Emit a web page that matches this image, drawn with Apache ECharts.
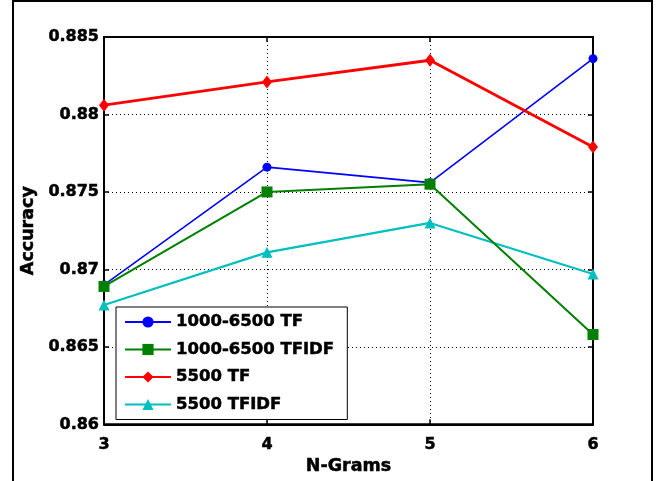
<!DOCTYPE html>
<html>
<head>
<meta charset="utf-8">
<script src="https://cdn.jsdelivr.net/npm/echarts@6/dist/echarts.min.js"></script>
<style>
  html, body { margin: 0; padding: 0; background: #fff; }
  #chart { width: 658px; height: 481px; }
</style>
</head>
<body>
<div id="chart"></div>
<script>
// N-gram sizes on the x axis
const nGrams = [3, 4, 5, 6]

// accuracy per series
const tf1000 = [0.8690, 0.8766, 0.8756, 0.8836]
const tfidf1000 = [0.8689, 0.8750, 0.8755, 0.8658]
const tf5500 = [0.8806, 0.8821, 0.8835, 0.8779]
const tfidf5500 = [0.8677, 0.8711, 0.8730, 0.8697]

const seriesNames = ['1000-6500 TF', '1000-6500 TFIDF', '5500 TF', '5500 TFIDF']

const font = '"DejaVu Sans", sans-serif'
// thin outline to get the heavy MATLAB bold look
const heavy = { fontFamily: font, fontWeight: 'bold', color: '#000', textBorderColor: '#000', textBorderWidth: 0.5 }

const pairs = vals => nGrams.map((n, i) => [n, vals[i]])

const chart = echarts.init(document.getElementById('chart'))

// tick-only axes for the top and right edges of the box
const edgeTicks = { show: true, inside: true, length: 5, lineStyle: { color: '#000', width: 1.5 } }

const option = {
  animation: false,
  backgroundColor: '#fff',
  textStyle: { fontFamily: font },

  // figure frame
  graphic: [{
    type: 'rect',
    shape: { x: 13, y: 1, width: 639, height: 495 },
    style: { fill: 'none', stroke: '#000', lineWidth: 2 },
    silent: true
  }],

  grid: {
    left: 104,
    right: 65,
    top: 37,
    bottom: 54,
    show: true,
    borderColor: '#000',
    borderWidth: 2,
    backgroundColor: 'transparent'
  },

  legend: {
    data: seriesNames,
    orient: 'vertical',
    left: 116,
    top: 307,
    width: 230,
    padding: [5, 13, 5, 8],
    itemWidth: 46,
    itemHeight: 14,
    itemGap: 7.5,
    backgroundColor: '#fff',
    borderColor: '#000',
    borderWidth: 1,
    borderRadius: 0,
    textStyle: { ...heavy, fontSize: 16.5, lineHeight: 20 }
  },

  xAxis: [
    {
      type: 'value',
      min: 3,
      max: 6,
      interval: 1,
      name: 'N-Grams',
      nameLocation: 'middle',
      nameGap: 30,
      nameTextStyle: { ...heavy, fontSize: 17.5 },
      axisLine: { show: true, lineStyle: { color: '#000', width: 2 } },
      axisTick: edgeTicks,
      axisLabel: { ...heavy, fontSize: 16, margin: 12 },
      splitLine: { show: true, lineStyle: { color: '#000', type: [1, 3], width: 1 } }
    },
    {
      type: 'value',
      position: 'top',
      min: 3,
      max: 6,
      interval: 1,
      axisLine: { show: true, lineStyle: { color: '#000', width: 2 } },
      axisTick: edgeTicks,
      axisLabel: { show: false },
      splitLine: { show: false }
    }
  ],

  yAxis: [
    {
      type: 'value',
      min: 0.86,
      max: 0.885,
      interval: 0.005,
      name: 'Accuracy',
      nameLocation: 'middle',
      nameGap: 57,
      nameTextStyle: { ...heavy, fontSize: 17.5 },
      axisLine: { show: true, lineStyle: { color: '#000', width: 2 } },
      axisTick: edgeTicks,
      axisLabel: {
        ...heavy,
        fontSize: 16,
        margin: 5,
        formatter: v => String(+v.toFixed(3))
      },
      splitLine: { show: true, lineStyle: { color: '#000', type: [1, 3], width: 1 } }
    },
    {
      type: 'value',
      position: 'right',
      min: 0.86,
      max: 0.885,
      interval: 0.005,
      axisLine: { show: true, lineStyle: { color: '#000', width: 2 } },
      axisTick: edgeTicks,
      axisLabel: { show: false },
      splitLine: { show: false }
    }
  ],

  series: [
    {
      name: seriesNames[0],
      type: 'line',
      data: pairs(tf1000),
      symbol: 'circle',
      symbolSize: 9,
      lineStyle: { color: '#0000ff', width: 1.6 },
      itemStyle: { color: '#0000ff' },
      z: 3
    },
    {
      name: seriesNames[1],
      type: 'line',
      data: pairs(tfidf1000),
      symbol: 'rect',
      symbolSize: 11,
      lineStyle: { color: '#008000', width: 2 },
      itemStyle: { color: '#008000' },
      z: 4
    },
    {
      name: seriesNames[2],
      type: 'line',
      data: pairs(tf5500),
      symbol: 'diamond',
      symbolSize: [10, 13],
      lineStyle: { color: '#ff0000', width: 2.8 },
      itemStyle: { color: '#ff0000' },
      z: 5
    },
    {
      name: seriesNames[3],
      type: 'line',
      data: pairs(tfidf5500),
      symbol: 'triangle',
      symbolSize: 11,
      lineStyle: { color: '#00bfbf', width: 2.2 },
      itemStyle: { color: '#00bfbf' },
      z: 2
    }
  ]
}

chart.setOption(option)
</script>
</body>
</html>
